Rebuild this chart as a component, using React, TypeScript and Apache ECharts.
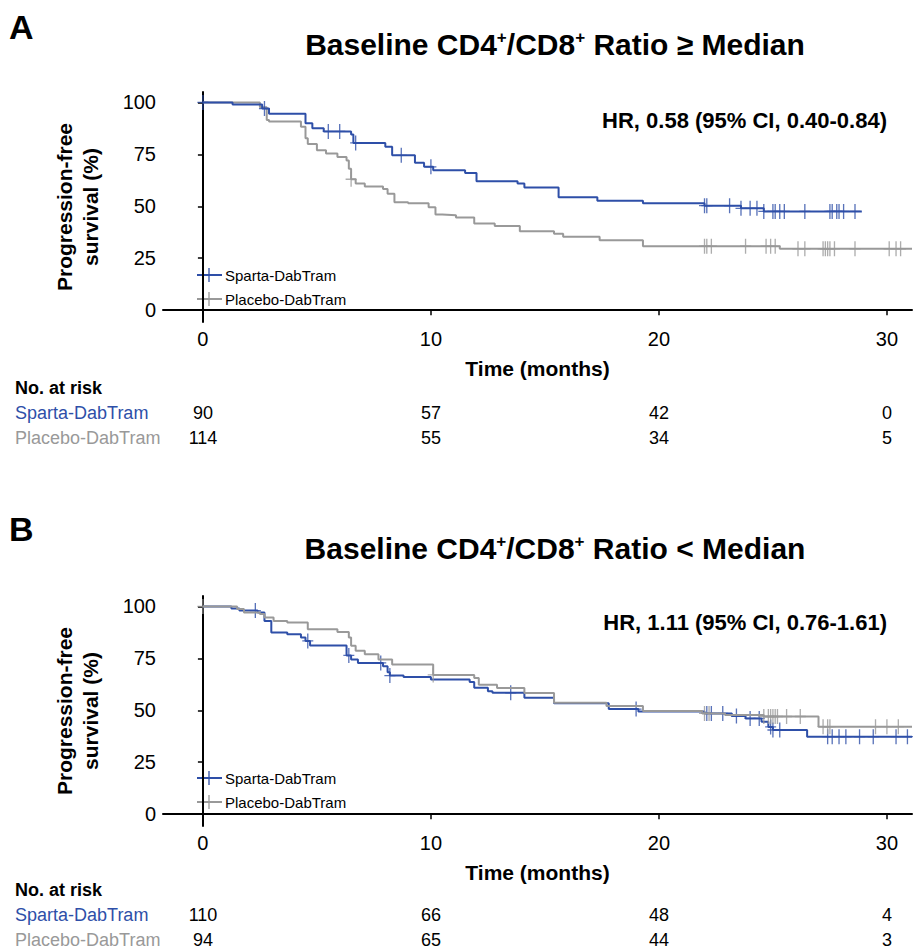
import { useEffect, useRef } from 'react';
import * as echarts from 'echarts';

const BLUE = '#2e4fa8';
const GRAY = '#999999';
const FONT = 'Liberation Sans, Arial, sans-serif';

// [month, survival %] at each event step
const spartaA = [[1.3, 99], [2.6, 97], [2.9, 94.5], [4.5, 90], [4.8, 87.5], [5.3, 86], [6.5, 84.5], [6.6, 80.5], [8.0, 78.6], [8.3, 74.5], [9.3, 71], [9.7, 69], [10.1, 67.3], [11.5, 66], [12.0, 62], [13.8, 61], [14.1, 59], [15.6, 54.3], [17.3, 52.7], [19.3, 51.5], [22.0, 50.3], [23.6, 49], [24.6, 47.5], [28.9, 47.5]];
const placeboA = [[2.5, 97.6], [2.8, 91.5], [2.9, 90.8], [4.3, 88.3], [4.5, 85], [4.5, 82.7], [4.6, 80], [5.0, 77], [5.4, 75.4], [5.9, 73.7], [6.3, 72], [6.4, 68], [6.5, 63], [6.7, 61], [7.1, 59.5], [7.9, 58.3], [8.1, 56], [8.4, 51.9], [9.0, 51.4], [9.9, 49.5], [10.2, 46], [10.5, 45.7], [11.1, 44.6], [11.9, 41.7], [12.8, 40.5], [13.9, 38], [15.4, 36.8], [15.8, 35.3], [17.4, 33.7], [19.3, 30.8], [25.3, 29.5], [31.1, 29.5]];
const spartaB = [[1.25, 99], [1.6, 98], [2.4, 97], [2.7, 93], [3.0, 87.4], [3.7, 86.6], [4.3, 85], [4.5, 83.4], [4.7, 81.2], [6.3, 76.4], [6.5, 74.4], [6.8, 72.8], [7.9, 71.2], [8.1, 68.3], [8.2, 66.7], [8.8, 66], [10.0, 64.8], [11.7, 63.6], [11.9, 60.8], [12.5, 59.2], [12.7, 58.4], [14.1, 56], [15.4, 53.4], [17.8, 50.6], [19.1, 49.4], [22.0, 48.5], [23.2, 47.2], [23.8, 46.1], [24.5, 44.5], [24.8, 42], [25.0, 40.5], [26.5, 37.3], [31.1, 37.3]];
const placeboB = [[1.5, 98.7], [1.8, 97], [2.5, 96.3], [2.7, 94.7], [3.1, 93], [3.7, 92.2], [4.6, 89], [5.9, 87.7], [6.4, 85], [6.5, 81], [6.7, 78.6], [7.1, 77], [7.7, 74.4], [8.3, 72], [10.1, 67], [11.9, 65.5], [12.1, 62.3], [12.9, 60.7], [14.1, 58.3], [15.4, 53.6], [17.7, 52], [19.3, 49.7], [21.9, 48.5], [22.9, 47.7], [24.6, 47], [27.0, 42.1], [31.1, 42.1]];

// censoring times (months)
const censSpartaA = [0, 2.7, 5.5, 6.0, 6.7, 8.7, 10.0, 22.0, 22.1, 23.1, 23.6, 24.0, 24.3, 24.6, 25.0, 25.1, 25.3, 25.5, 26.4, 27.5, 27.6, 27.8, 27.9, 28.1, 28.6];
const censPlaceboA = [6.5, 22.0, 22.1, 22.3, 23.8, 24.7, 24.9, 25.1, 26.1, 26.4, 27.2, 27.3, 27.4, 27.5, 27.7, 28.6, 30.1, 30.4, 30.6];
const censSpartaB = [2.3, 4.6, 6.4, 7.8, 8.2, 13.5, 19.0, 22.1, 22.3, 22.8, 23.4, 24.0, 24.4, 24.9, 25.0, 25.3, 27.4, 27.6, 27.9, 28.2, 28.8, 29.4, 30.4, 30.9];
const censPlaceboB = [0, 10.1, 22.0, 22.2, 24.6, 24.8, 24.9, 25.0, 25.1, 25.2, 25.6, 26.2, 27.2, 27.4, 27.5, 29.5, 30.0, 30.5];

const xTicks = [0, 10, 20, 30];
const yTicks = [0, 25, 50, 75, 100];
const riskSpartaA = ['90', '57', '42', '0'];
const riskPlaceboA = ['114', '55', '34', '5'];
const riskSpartaB = ['110', '66', '48', '4'];
const riskPlaceboB = ['94', '65', '44', '3'];

const survAt = (steps: number[][], t: number) => {
  let s = 100;
  for (const [tt, v] of steps) if (tt <= t) s = v;
  return s;
};

const PLUS = 'path://M-0.6,-7H0.6V7H-0.6Z M-5,-0.6H5V0.6H-5Z';

export default function App() {
  const ref = useRef<HTMLDivElement>(null);

  useEffect(() => {
    if (!ref.current) return;
    const chart = echarts.init(ref.current, undefined, { renderer: 'svg' });
    const grids = [
      { left: 163, right: 2, top: 92, height: 230 },
      { left: 163, right: 2, top: 596, height: 230 },
    ];
    const xAxis = [0, 1].map((i) => ({
      type: 'value', gridIndex: i, min: -1.75, max: 31.1,
      name: 'Time (months)', nameLocation: 'middle', nameGap: 36,
      nameTextStyle: { fontFamily: FONT, fontWeight: 'bold', fontSize: 21, color: '#000' },
      axisLine: { lineStyle: { color: '#000', width: 2 } },
      axisTick: { customValues: xTicks, lineStyle: { color: '#000', width: 1.5 }, length: 5 },
      axisLabel: { customValues: xTicks, fontFamily: FONT, fontSize: 20, color: '#000', margin: 7 },
      splitLine: { show: false },
    }));
    const yAxis = [0, 1].map((i) => ({
      type: 'value', gridIndex: i, min: -5.7, max: 105,
      name: 'Progression-free\nsurvival (%)', nameLocation: 'middle', nameGap: 60, nameRotate: 90,
      nameTextStyle: { fontFamily: FONT, fontWeight: 'bold', fontSize: 21, color: '#000', lineHeight: 26 },
      axisLine: { show: true, lineStyle: { color: '#000', width: 2 } },
      axisTick: { show: true, customValues: yTicks, lineStyle: { color: '#000', width: 1.5 }, length: 5 },
      axisLabel: { customValues: yTicks, fontFamily: FONT, fontSize: 20, color: '#000', margin: 7 },
      splitLine: { show: false },
    }));
    const lineSeries = (steps: number[][], color: string, idx: number, z: number) => ({
      type: 'line', xAxisIndex: idx, yAxisIndex: idx, step: 'end', symbol: 'none', z,
      lineStyle: { color, width: 2 }, data: [[0, 100], ...steps],
    });
    const censSeries = (times: number[], steps: number[][], color: string, idx: number, z: number) => ({
      type: 'scatter', xAxisIndex: idx, yAxisIndex: idx, symbol: PLUS, symbolSize: [11, 15], z,
      itemStyle: { color }, data: times.map((t) => [t, survAt(steps, t)]),
    });
    const graphic: any[] = [];
    const title = (y: number, op: string, letter: string, ly: number) => {
      graphic.push({ type: 'text', left: 9, top: ly, style: { text: letter, font: `bold 34px ${FONT}`, fill: '#000' } });
      graphic.push({
        type: 'text', x: 555, y, style: {
          text: `{t|Baseline CD4}{s|+}{t|/CD8}{s|+}{t| Ratio ${op} Median}`, align: 'center', verticalAlign: 'middle',
          rich: { t: { font: `bold 30px ${FONT}`, fill: '#000' }, s: { font: `bold 17px ${FONT}`, fill: '#000', verticalAlign: 'top', padding: [0, 0, 12, 0] } },
        },
      });
    };
    title(44, '≥', 'A', 10);
    title(548, '<', 'B', 512);
    const legend = (y: number) => {
      [[BLUE, 'Sparta-DabTram'], [GRAY, 'Placebo-DabTram']].forEach(([c, t], k) => {
        const yy = y + k * 24;
        graphic.push({ type: 'line', shape: { x1: 197, y1: yy, x2: 222, y2: yy }, style: { stroke: c, lineWidth: 2 } });
        graphic.push({ type: 'line', shape: { x1: 209, y1: yy - 7, x2: 209, y2: yy + 7 }, style: { stroke: c, lineWidth: 1.3 } });
        graphic.push({ type: 'text', x: 225, y: yy, style: { text: t, font: `15px ${FONT}`, fill: '#000', verticalAlign: 'middle' } });
      });
    };
    legend(275);
    legend(778);
    const hr = (y: number, t: string) =>
      graphic.push({ type: 'text', x: 887, y, style: { text: t, font: `bold 22px ${FONT}`, fill: '#000', align: 'right', verticalAlign: 'middle' } });
    hr(120, 'HR, 0.58 (95% CI, 0.40-0.84)');
    hr(622, 'HR, 1.11 (95% CI, 0.76-1.61)');
    const xs = xTicks.map((t) => 203 + t * 22.8);
    const table = (y: number, sp: string[], pl: string[]) => {
      graphic.push({ type: 'text', x: 15, y, style: { text: 'No. at risk', font: `bold 18px ${FONT}`, fill: '#000', verticalAlign: 'middle' } });
      [[BLUE, 'Sparta-DabTram', sp], [GRAY, 'Placebo-DabTram', pl]].forEach(([c, n, vals]: any, k) => {
        const yy = y + 25 + k * 25;
        graphic.push({ type: 'text', x: 15, y: yy, style: { text: n, font: `18px ${FONT}`, fill: c, verticalAlign: 'middle' } });
        vals.forEach((v: string, j: number) =>
          graphic.push({ type: 'text', x: xs[j], y: yy, style: { text: v, font: `18px ${FONT}`, fill: '#000', align: 'center', verticalAlign: 'middle' } }));
      });
    };
    table(388, riskSpartaA, riskPlaceboA);
    table(890, riskSpartaB, riskPlaceboB);

    chart.setOption({
      animation: false,
      grid: grids,
      xAxis,
      yAxis,
      graphic,
      series: [
        lineSeries(placeboA, GRAY, 0, 2), lineSeries(spartaA, BLUE, 0, 3),
        censSeries(censPlaceboA, placeboA, GRAY, 0, 2), censSeries(censSpartaA, spartaA, BLUE, 0, 3),
        lineSeries(spartaB, BLUE, 1, 2), lineSeries(placeboB, GRAY, 1, 3),
        censSeries(censSpartaB, spartaB, BLUE, 1, 2), censSeries(censPlaceboB, placeboB, GRAY, 1, 3),
      ],
    } as any);
    return () => chart.dispose();
  }, []);

  return <div ref={ref} style={{ position: 'fixed', left: 0, top: 0, width: 914, height: 951, background: '#fff' }} />;
}
